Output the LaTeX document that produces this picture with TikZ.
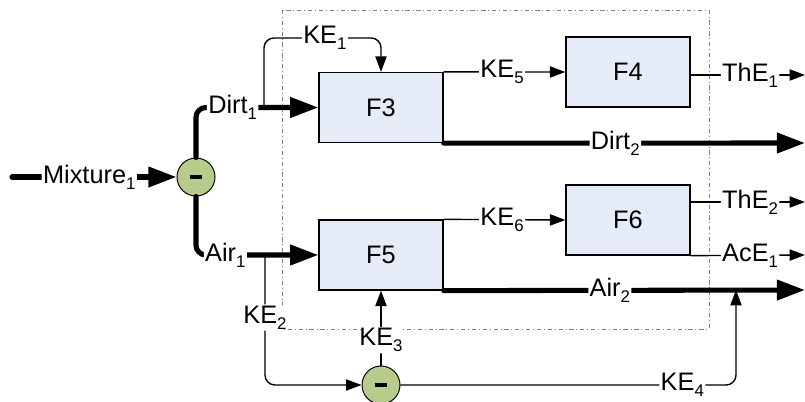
\documentclass[tikz,border=0pt]{standalone}
\usepackage{fontspec}
\setmainfont{Liberation Sans}
\usetikzlibrary{arrows.meta}
\definecolor{boxblue}{RGB}{230,236,247}
\definecolor{splitgreen}{RGB}{183,204,140}
\newcommand{\sbs}[1]{\raisebox{-0.45ex}{\fontsize{12}{12}\selectfont #1}}

\begin{document}
\begin{tikzpicture}[
    x=0.025cm, y=-0.025cm,
    font=\fontsize{18}{20}\selectfont,
    block/.style={rectangle, draw, fill=boxblue, line width=0.9pt, minimum width=3.1cm, minimum height=1.75cm},
    split/.style={circle, draw, fill=splitgreen, line width=0.7pt, minimum size=0.95cm, inner sep=0pt},
    flow/.style={line width=3.6pt, line cap=round, -{Triangle[length=20pt,width=14pt]}, rounded corners=7pt},
    sig/.style={line width=1pt, -{Triangle[length=11pt,width=8pt]}, rounded corners=7pt},
    lbl/.style={fill=white, inner sep=1pt},
    frame/.style={draw=gray, line width=0.7pt, dash dot}
]
\useasboundingbox (0,0) rectangle (805,402);

% Boundary
\draw[frame] (282,10) rectangle (709,329);

% Splitters
\node[split] (S1) at (196,177) {\rule{9pt}{3pt}};
\node[split] (S2) at (381,385) {\rule{9pt}{3pt}};

% Blocks
\node[block] (F3) at (381,107.5) {F3};
\node[block] (F4) at (628,72) {F4};
\node[block] (F5) at (381,255) {F5};
\node[block] (F6) at (628,220) {F6};

% Free ends
\coordinate (mixin) at (12,177);
\coordinate (k1) at (264,108);
\coordinate (k1top) at (264,38);
\coordinate (k2) at (265,255);
\coordinate (k4) at (736,290);
\coordinate (dirtout) at (805,143);
\coordinate (airout) at (805,290);
\coordinate (the1out) at (805,75);
\coordinate (the2out) at (805,202);
\coordinate (ace1out) at (805,255);

% Main flows
\draw[flow] (mixin) -- node[lbl, pos=0.47] {Mixture\sbs{1}} (S1.west);
\draw[flow] (S1.north) |- node[lbl, pos=0.65] {Dirt\sbs{1}} (F3.west);
\draw[flow] (S1.south) |- node[lbl, pos=0.62] {Air\sbs{1}} (F5.west);
\draw[flow] (F3.south east) -- node[lbl, pos=0.475] {Dirt\sbs{2}} (dirtout);
\draw[flow] (F5.south east) -- node[lbl, pos=0.46] {Air\sbs{2}} (airout);

% Energy flows
\draw[sig] (k1) -- (k1top) -| node[lbl, pos=0.26] {KE\sbs{1}} (F3.north);
\draw[sig] (k2) |- node[lbl, pos=0.24] {KE\sbs{2}} (S2.west);
\draw[sig] (S2.north) -- node[lbl, pos=0.34] {KE\sbs{3}} (F5.south);
\draw[sig] (S2.east) -| node[lbl, pos=0.42] {KE\sbs{4}} (k4);
\draw[sig] (F3.north east) -- node[lbl, pos=0.48] {KE\sbs{5}} (F4.west);
\draw[sig] (F5.north east) -- node[lbl, pos=0.48] {KE\sbs{6}} (F6.west);

% Outputs
\draw[sig] (F4.east |- the1out) -- node[lbl, pos=0.52] {ThE\sbs{1}} (the1out);
\draw[sig] (F6.east |- the2out) -- node[lbl, pos=0.52] {ThE\sbs{2}} (the2out);
\draw[sig] (F6.south east) -- node[lbl, pos=0.52] {AcE\sbs{1}} (ace1out);

\end{tikzpicture}
\end{document}
